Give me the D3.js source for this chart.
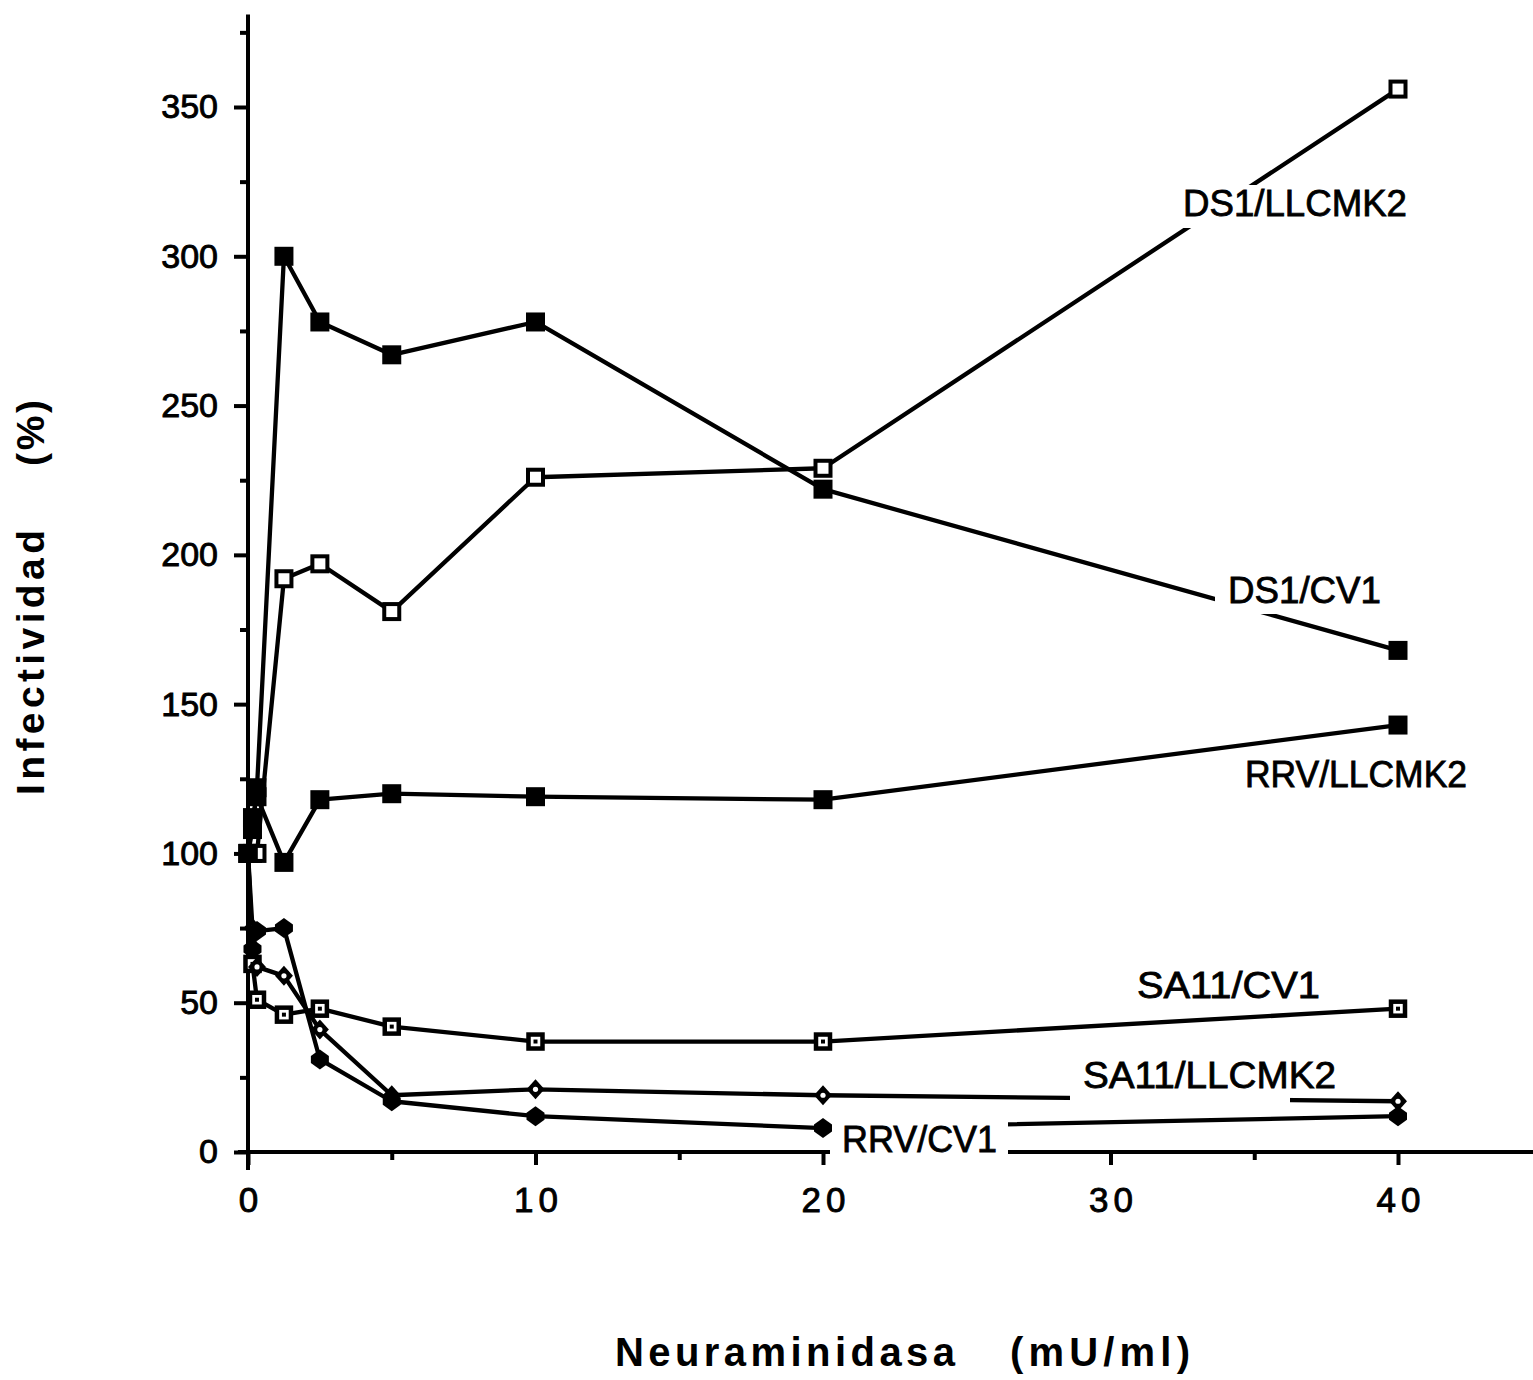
<!DOCTYPE html>
<html>
<head>
<meta charset="utf-8">
<script src="https://cdn.jsdelivr.net/npm/d3@7"></script>
<style>
  html, body { margin: 0; padding: 0; background: #ffffff; }
  svg { display: block; }
  text { font-family: "Liberation Sans", Arial, Helvetica, sans-serif; fill: #000; }
</style>
</head>
<body>
<script>
// ---------------- data ----------------
const doses = [0, 0.156, 0.3125, 1.25, 2.5, 5, 10, 20, 40];           // Neuraminidasa (mU/ml)
const seriesNames = ["DS1/LLCMK2", "DS1/CV1", "RRV/LLCMK2", "SA11/CV1", "SA11/LLCMK2", "RRV/CV1"];
const ds1Llcmk2 = [100, 100, 100, 192, 197, 181, 226, 229, 356];
const ds1Cv1    = [100, 108, 122, 300, 278, 267, 278, 222, 168];
const rrvLlcmk2 = [100, 112, 119, 97, 118, 120, 119, 118, 143];
const sa11Cv1   = [100, 63, 51, 46, 48, 42, 37, 37, 48];
const sa11Llcmk2= [100, 75, 62, 59, 41, 19, 21, 19, 17];
const rrvCv1    = [100, 68, 74, 75, 31, 17, 12, 8, 12];
const xTickValues = [0, 10, 20, 30, 40];
const xMinorTicks = [5, 15, 25, 35];
const yTickValues = [0, 50, 100, 150, 200, 250, 300, 350];
const yMinorTicks = [25, 75, 125, 175, 225, 275, 325, 375];
const xTitle = ["Neuraminidasa", "(mU/ml)"];
const yTitle = ["Infectividad", "(%)"];

// ---------------- layout ----------------
const W = 1533, H = 1380;
const svg = d3.select("body").append("svg").attr("width", W).attr("height", H);

const x = d3.scaleLinear().domain([0, 40]).range([248, 1398]);
const y = d3.scaleLinear().domain([0, 350]).range([1152, 107]);

const values = [ds1Llcmk2, ds1Cv1, rrvLlcmk2, sa11Cv1, sa11Llcmk2, rrvCv1];
const markerType = ["openSquare", "filledSquare", "filledSquare", "dotSquare", "dotDiamond", "filledCircle"];

// label layout (pixel boxes): text left, baseline, width, and knockout rect
const labelLayout = {
  "DS1/LLCMK2":  { x: 1183, y: 216, w: 224, ko: [1180, 185, 232, 43] },
  "DS1/CV1":     { x: 1228, y: 603, w: 153, ko: [1215, 570, 180, 44] },
  "RRV/LLCMK2":  { x: 1245, y: 787, w: 222, ko: null },
  "SA11/CV1":    { x: 1137, y: 998, w: 183, ko: null },
  "SA11/LLCMK2": { x: 1083, y: 1088, w: 253, ko: [1070, 1060, 220, 44] },
  "RRV/CV1":     { x: 842, y: 1152, w: 155, ko: [830, 1118, 178, 42] }
};

// ---------------- axes ----------------
const axisG = svg.append("g");
axisG.append("line")
  .attr("x1", x(0)).attr("x2", x(0))
  .attr("y1", y(-6)).attr("y2", y(381))
  .attr("stroke", "#000").attr("stroke-width", 4);
axisG.append("line")
  .attr("x1", x(-0.35)).attr("x2", W)
  .attr("y1", y(0)).attr("y2", y(0))
  .attr("stroke", "#000").attr("stroke-width", 4);

const yAxis = axisG.append("g").attr("transform", `translate(${x(0)},0)`)
  .call(d3.axisLeft(y).tickValues(yTickValues).tickSize(14).tickPadding(16));
const yAxisMinor = axisG.append("g").attr("transform", `translate(${x(0)},0)`)
  .call(d3.axisLeft(y).tickValues(yMinorTicks).tickSize(8).tickFormat(""));
const xAxis = axisG.append("g").attr("transform", `translate(0,${y(0)})`)
  .call(d3.axisBottom(x).tickValues(xTickValues).tickSize(13).tickPadding(22));
const xAxisMinor = axisG.append("g").attr("transform", `translate(0,${y(0)})`)
  .call(d3.axisBottom(x).tickValues(xMinorTicks).tickSize(8).tickFormat(""));

axisG.selectAll(".domain").remove();
axisG.selectAll(".tick line").attr("stroke", "#000").attr("stroke-width", 4);
yAxis.selectAll(".tick text").attr("font-size", 34)
  .attr("font-family", "Liberation Sans, Arial, sans-serif").attr("fill", "#000")
  .attr("stroke", "#000").attr("stroke-width", 0.9);
xAxis.selectAll(".tick text").attr("font-size", 35).attr("letter-spacing", 5)
  .attr("font-family", "Liberation Sans, Arial, sans-serif").attr("fill", "#000")
  .attr("stroke", "#000").attr("stroke-width", 0.9)
  .attr("dx", 2.5);

// ---------------- lines ----------------
const lineGen = d3.line().x((d, i) => x(doses[i])).y(d => y(d));
const lineG = svg.append("g");
values.forEach(v => {
  lineG.append("path")
    .attr("d", lineGen(v))
    .attr("fill", "none")
    .attr("stroke", "#000")
    .attr("stroke-width", 4.3)
    .attr("stroke-linejoin", "round")
    .attr("stroke-linecap", "round");
});

// ---------------- label knockouts ----------------
const koG = svg.append("g");
seriesNames.forEach(n => {
  const L = labelLayout[n];
  if (L.ko) {
    koG.append("rect").attr("x", L.ko[0]).attr("y", L.ko[1])
      .attr("width", L.ko[2]).attr("height", L.ko[3]).attr("fill", "#fff");
  }
});

// ---------------- markers ----------------
const markG = svg.append("g");
values.forEach((v, si) => {
  const t = markerType[si];
  v.forEach((val, i) => {
    const cx = x(doses[i]), cy = y(val);
    if (t === "filledSquare") {
      markG.append("rect").attr("x", cx - 9.5).attr("y", cy - 9.5).attr("width", 19).attr("height", 19).attr("fill", "#000");
    } else if (t === "openSquare") {
      markG.append("rect").attr("x", cx - 7.5).attr("y", cy - 7.5).attr("width", 15).attr("height", 15)
        .attr("fill", "#fff").attr("stroke", "#000").attr("stroke-width", 4);
    } else if (t === "dotSquare") {
      markG.append("rect").attr("x", cx - 7).attr("y", cy - 7).attr("width", 14).attr("height", 14)
        .attr("fill", "#fff").attr("stroke", "#000").attr("stroke-width", 4.5);
      markG.append("rect").attr("x", cx - 2).attr("y", cy - 2).attr("width", 4).attr("height", 4).attr("fill", "#000");
    } else if (t === "dotDiamond") {
      markG.append("path").attr("d", `M${cx},${cy - 10}L${cx + 9},${cy}L${cx},${cy + 10}L${cx - 9},${cy}Z`).attr("fill", "#000");
      markG.append("circle").attr("cx", cx).attr("cy", cy).attr("r", 2.6).attr("fill", "#fff");
    } else if (t === "filledCircle") {
      markG.append("path").attr("d", `M${cx},${cy - 10}L${cx + 9},${cy - 3.5}L${cx + 9},${cy + 3.5}L${cx},${cy + 10}L${cx - 9},${cy + 3.5}L${cx - 9},${cy - 3.5}Z`).attr("fill", "#000");
    }
  });
});

// ---------------- series labels ----------------
const labG = svg.append("g");
seriesNames.forEach(n => {
  const L = labelLayout[n];
  labG.append("text").attr("x", L.x).attr("y", L.y)
    .attr("font-size", 36)
    .attr("stroke", "#000").attr("stroke-width", 0.8)
    .attr("textLength", L.w).attr("lengthAdjust", "spacingAndGlyphs")
    .text(n);
});

// ---------------- axis titles ----------------
svg.append("text").attr("x", 615).attr("y", 1366)
  .attr("font-size", 40).attr("font-weight", "bold")
  .attr("textLength", 340).attr("lengthAdjust", "spacing")
  .text(xTitle[0]);
svg.append("text").attr("x", 1010).attr("y", 1366)
  .attr("font-size", 40).attr("font-weight", "bold")
  .attr("textLength", 180).attr("lengthAdjust", "spacing")
  .text(xTitle[1]);

svg.append("text").attr("transform", "translate(44,795) rotate(-90)")
  .attr("font-size", 39).attr("font-weight", "bold")
  .attr("textLength", 265).attr("lengthAdjust", "spacing")
  .text(yTitle[0]);
svg.append("text").attr("transform", "translate(44,466) rotate(-90)")
  .attr("font-size", 39).attr("font-weight", "bold")
  .attr("textLength", 66).attr("lengthAdjust", "spacing")
  .text(yTitle[1]);
</script>
</body>
</html>
